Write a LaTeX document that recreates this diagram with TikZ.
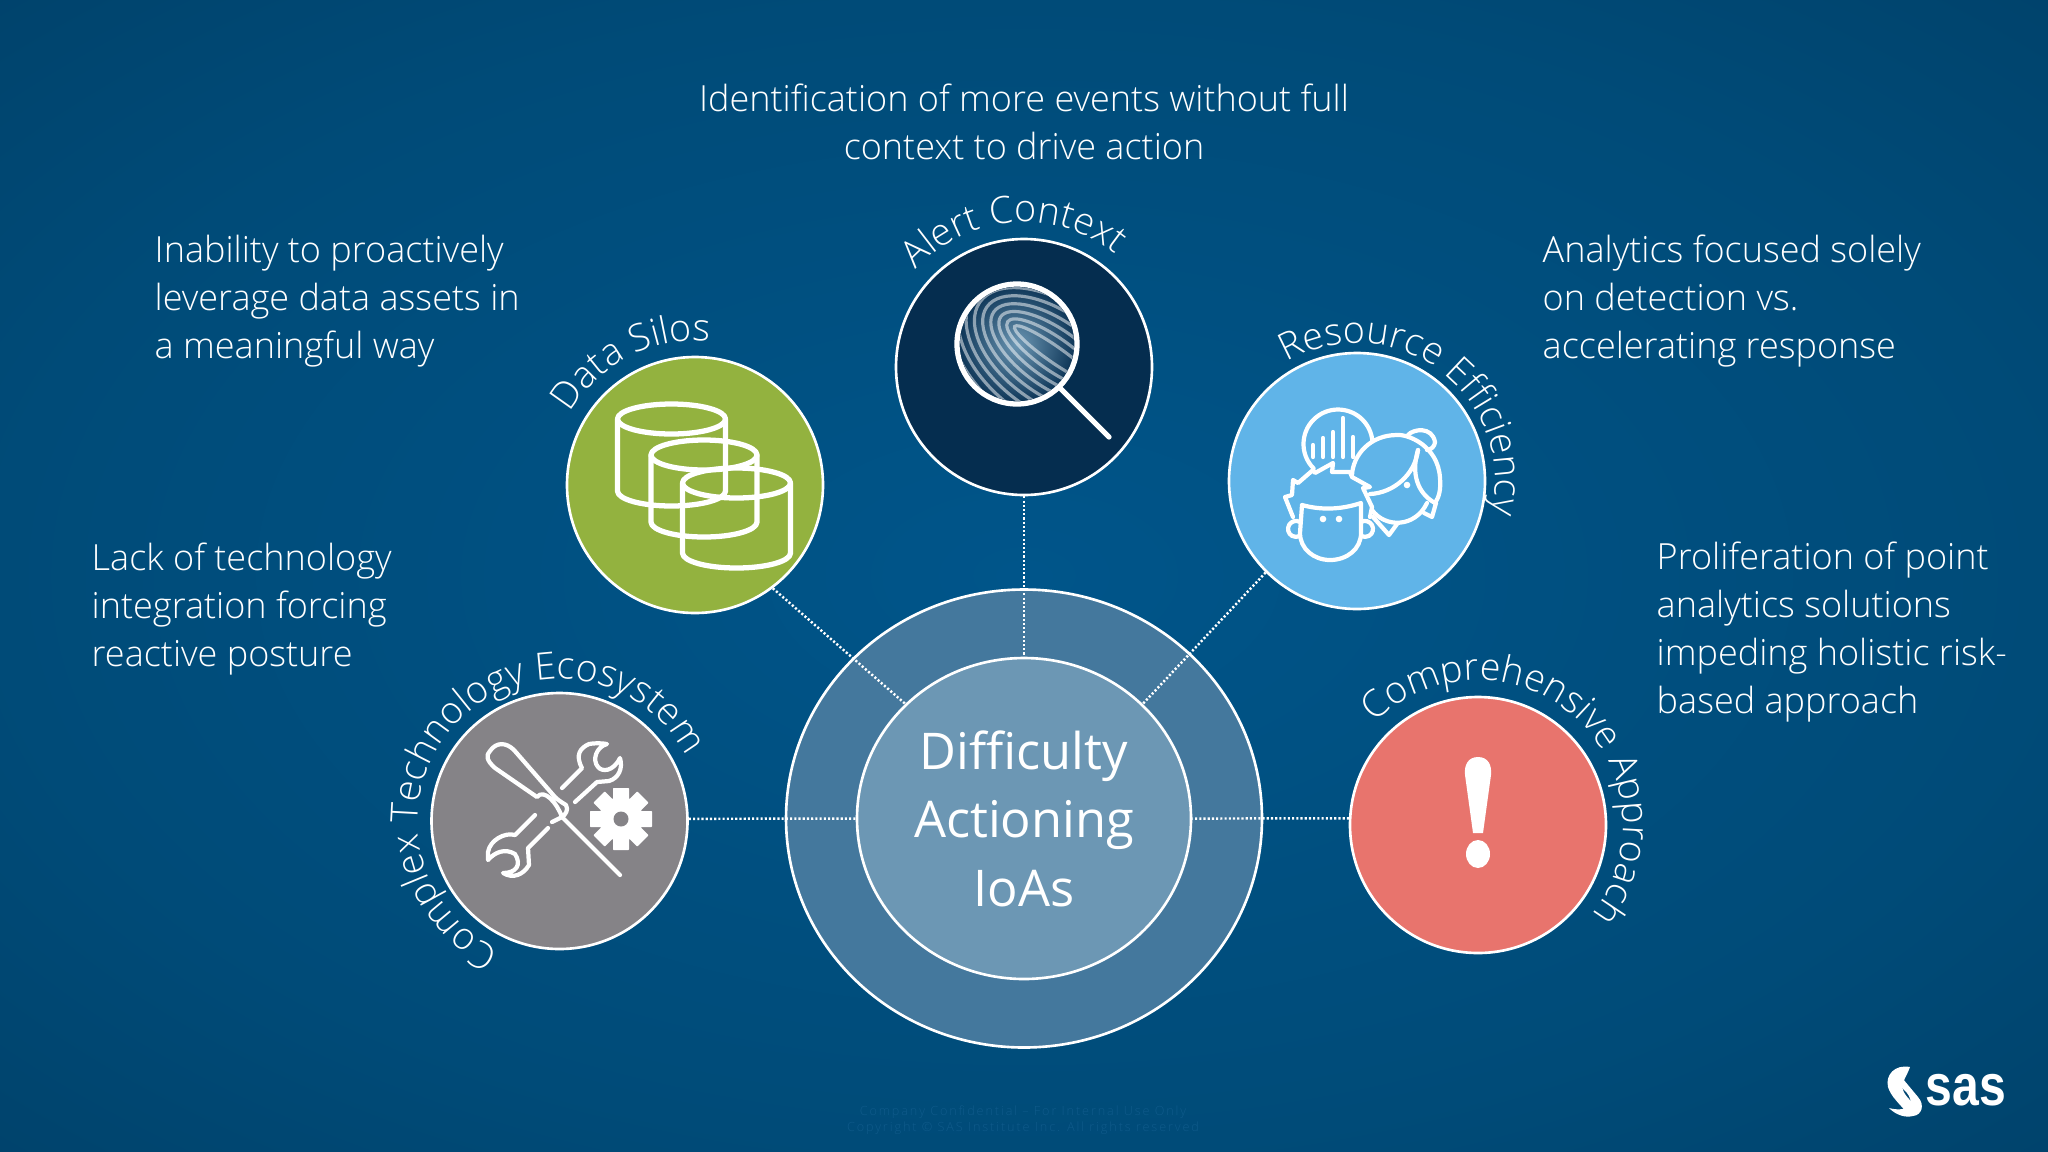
\documentclass[tikz,border=0pt]{standalone}
\usepackage{xcolor}
\usepackage{fontspec}
\usetikzlibrary{decorations.text}
\usetikzlibrary{shapes.geometric}
\setmainfont{Open Sans Light}
\newfontfamily\midfont{Open Sans}
\newfontfamily\logofont{Liberation Sans}
\newcommand{\bodyfont}{\fontsize{10.25}{13.65}\selectfont}
\newcommand{\arcfont}{\fontsize{10.7}{13}\selectfont\color{white}}
\definecolor{bgmid}{HTML}{00558A}
\definecolor{bgnear}{HTML}{004B78}
\definecolor{bgedge}{HTML}{01385C}
\definecolor{bgcorner}{HTML}{022B48}
\definecolor{ringblue}{HTML}{44789D}
\definecolor{hubblue}{HTML}{6C97B4}
\definecolor{silogreen}{HTML}{93B23F}
\definecolor{alertnavy}{HTML}{052D4F}
\definecolor{skyblue}{HTML}{60B4E8}
\definecolor{toolgrey}{HTML}{858387}
\definecolor{warnred}{HTML}{E8746D}
\definecolor{footblue}{HTML}{0F5A8A}
\pgfdeclareradialshading{slideback}{\pgfpoint{0bp}{0bp}}{color(0bp)=(bgmid); color(25bp)=(bgnear); color(50bp)=(bgedge); color(71bp)=(bgcorner)}
\tikzset{
  disc/.style={circle, draw=white, line width=0.75pt, inner sep=0pt, minimum size=25.6mm},
  bodytext/.style={text=white, align=left, anchor=west, inner sep=0pt, font=\bodyfont},
  arclabel/.style={decorate, decoration={text along path, text align=center, text={|\arcfont|#1}}},
  dotlink/.style={white, line width=0.7pt, dash pattern=on 0.6pt off 0.6pt},
  iconline/.style={white, line width=1.5pt, line cap=round, line join=round},
  thinicon/.style={white, line width=1.2pt, line cap=round, line join=round},
  ridge/.style={white, opacity=0.5, line width=0.9pt}
}
\begin{document}
\begin{tikzpicture}[scale=0.1]
\useasboundingbox (0,0) rectangle (204.8,-115.1);
\shade [shading=slideback] (0,0) rectangle (204.8,-115.1);
\node [ellipse, draw=white, line width=0.75pt, fill=ringblue, inner sep=0pt, minimum width=47.6mm, minimum height=45.8mm] (hubring) at (102.4,-81.85) {};
\node [ellipse, draw=white, line width=0.75pt, fill=hubblue, inner sep=0pt, minimum width=33.4mm, minimum height=32.1mm, text=white, align=center, font=\midfont\fontsize{14.4}{19.5}\selectfont] (hub) at (102.4,-81.85) {Difficulty\\Actioning\\IoAs};
\node [disc, fill=silogreen] (silos) at (69.5,-48.5) {};
\node [disc, fill=alertnavy] (alert) at (102.4,-36.7) {};
\node [disc, fill=skyblue] (people) at (135.7,-48.1) {};
\node [disc, fill=toolgrey] (tools) at (55.95,-82.1) {};
\node [disc, fill=warnred] (warn) at (147.8,-82.5) {};
\draw [dotlink] (silos.-53) -- (hub.136);
\draw [dotlink] (alert.south) -- (hub.north);
\draw [dotlink] (people.225) -- (hub.44);
\draw [dotlink] (tools.1) -- (hub.west);
\draw [dotlink] (warn.177) -- (hub.east);
\node [bodytext, anchor=center, align=center] (alerttext) at (102.4,-12.2) {Identification of more events without full\\context to drive action};
\node [bodytext] (silostext) at (15.4,-30.1) {Inability to proactively\\leverage data assets in\\a meaningful way};
\node [bodytext] (toolstext) at (9.1,-60.9) {Lack of technology\\integration forcing\\reactive posture};
\node [bodytext] (peopletext) at (154.2,-30.1) {Analytics focused solely\\on detection vs.\\accelerating response};
\node [bodytext] (warntext) at (165.6,-63.2) {Proliferation of point\\analytics solutions\\impeding holistic risk-\\based approach};
\path [arclabel={Data Silos}] (silos.center) ++(158:14.4) arc (158:76:14.4);
\path [arclabel={Alert Context}] (alert.center) ++(150:14.5) arc (150:39:14.5);
\path [arclabel={Resource Efficiency}] (people.center) ++(133:13.8) arc (133:-26:13.8);
\path [arclabel={Complex Technology Ecosystem}] (tools.center) ++(256:14.2) arc (256:16:14.2);
\path [arclabel={Comprehensive Approach}] (warn.center) ++(150:14.5) arc (150:-53:14.5);
\draw [iconline] (67.15,-41.9) ellipse (5.4 and 1.5);
\draw [iconline] (61.75,-41.9) -- (61.75,-49.1) arc (180:360:5.4 and 1.5) -- (72.55,-41.9);
\draw [iconline] (70.4,-45.5) ellipse (5.3 and 1.5);
\draw [iconline] (65.1,-45.5) -- (65.1,-52.2) arc (180:360:5.3 and 1.5) -- (75.7,-45.5);
\draw [iconline] (73.65,-48.3) ellipse (5.4 and 1.5);
\draw [iconline] (68.25,-48.3) -- (68.25,-55.3) arc (180:360:5.4 and 1.5) -- (79.05,-48.3);
\begin{scope}
\clip (101.7,-34.4) circle (5.7);
\shade [inner color=hubblue, outer color=alertnavy!90!hubblue] (101.7,-34.4) circle (5.7);
\draw [ridge] (105.4,-35.4) circle [x radius=4.8, y radius=0.8, rotate=-35];
\draw [ridge] (105.4,-35.4) circle [x radius=5.65, y radius=1.65, rotate=-35];
\draw [ridge] (105.4,-35.4) circle [x radius=6.5, y radius=2.5, rotate=-35];
\draw [ridge] (105.4,-35.4) circle [x radius=7.35, y radius=3.35, rotate=-35];
\draw [ridge] (105.4,-35.4) circle [x radius=8.2, y radius=4.2, rotate=-35];
\draw [ridge] (105.4,-35.4) circle [x radius=9.05, y radius=5.05, rotate=-35];
\draw [ridge] (105.4,-35.4) circle [x radius=9.9, y radius=5.9, rotate=-35];
\draw [ridge] (105.4,-35.4) circle [x radius=10.75, y radius=6.75, rotate=-35];
\draw [ridge] (105.4,-35.4) circle [x radius=11.6, y radius=7.6, rotate=-35];
\draw [ridge] (105.4,-35.4) circle [x radius=12.45, y radius=8.45, rotate=-35];
\draw [ridge] (105.4,-35.4) circle [x radius=13.3, y radius=9.3, rotate=-35];
\end{scope}
\draw [iconline] (101.7,-34.4) circle (6);
\draw [iconline] (106,-38.8) -- (110.9,-43.7);
\draw [thinicon] (131.36,-46.84) arc (225:5:3.45);
\draw [thinicon] (131.3,-45.7) -- (131.3,-44.5);
\draw [thinicon] (132.3,-45.7) -- (132.3,-43.8);
\draw [thinicon] (133.3,-45.7) -- (133.3,-43.2);
\draw [thinicon] (134.3,-45.7) -- (134.3,-41.8);
\draw [thinicon] (135.3,-45.7) -- (135.3,-43.7);
\draw [thinicon] (130.2,-50.5) -- (130,-53.3) .. controls (130,-54.9) and (131.4,-56) .. (133,-56) .. controls (134.7,-56) and (136.1,-54.9) .. (136.1,-53.3) -- (136.1,-50.3) .. controls (134,-51) and (132,-51) .. (130.2,-50.5);
\fill [white] (132.3,-51.9) circle (0.33);
\fill [white] (133.9,-51.9) circle (0.33);
\draw [thinicon] (130,-52.2) arc (60:300:0.8);
\draw [thinicon] (136.1,-52.2) arc (120:-120:0.8);
\draw [thinicon] (129.3,-51.7) -- (128.5,-49.7) -- (129.2,-49.5) -- (129.3,-48) -- (129.8,-48.3) -- (131.3,-47) -- (131.5,-47.3) -- (133.3,-46.3) -- (133.2,-47.2) -- (135,-47.2) -- (135.2,-47.7) -- (137,-48.7) -- (136.3,-48.8) -- (137.2,-50.7) -- (137,-51.7);
\draw [thinicon] (135.2,-47.5) .. controls (135.3,-45.5) and (137,-43.5) .. (139.7,-43.5) .. controls (140.7,-43.4) and (143.8,-44.5) .. (144,-47.8) .. controls (144.1,-49) and (143.9,-49.7) .. (143.5,-50.3);
\draw [thinicon] (140.8,-43.5) .. controls (141.3,-42.9) and (143.2,-42.6) .. (143.5,-44.2) .. controls (143.5,-44.6) and (143.1,-45) .. (142.7,-45);
\draw [thinicon] (137,-49.4) .. controls (139.3,-49.3) and (141.5,-47.5) .. (141.8,-45);
\draw [thinicon] (141.8,-45) .. controls (141.1,-47.3) and (141.7,-49.3) .. (143.5,-50.3);
\draw [thinicon] (137.2,-51) .. controls (138.5,-52.8) and (141.5,-52.8) .. (142.7,-50.3);
\draw [thinicon] (137.3,-51.7) -- (138.9,-53.5) -- (139.7,-52.4);
\draw [thinicon] (142.4,-51.3) -- (143.2,-51.7) -- (143.6,-50.3);
\fill [white] (140.7,-48.5) circle (0.33);
\draw [thinicon] (56.2,-81.7) .. controls (55.7,-80.3) and (54.4,-78.8) .. (53.7,-79.7) -- (49.5,-76.8) .. controls (48.6,-76) and (48.6,-75.5) .. (49,-75.1) .. controls (49.6,-74.2) and (50.6,-74.2) .. (51.4,-75) -- (55.5,-79.7) .. controls (55.9,-80.1) and (56.3,-80.3) .. (56.6,-80.5) .. controls (56.9,-81) and (56.5,-81.5) .. (56.2,-81.7) -- (55.2,-82.2) -- cycle;
\draw [thinicon] (56.2,-81.7) -- (62,-87.5);
\draw [thinicon] (56.2,-78.8) -- (58.2,-76.8) .. controls (57.5,-75.5) and (58,-74.8) .. (58.9,-74.4) .. controls (59.4,-74.3) and (60.2,-74.3) .. (60.7,-74.4) .. controls (59.6,-74.7) and (59.2,-76) .. (59.8,-76.7) .. controls (60.2,-77.2) and (61.3,-77.2) .. (62,-75.8) .. controls (62.3,-76.8) and (61.9,-77.8) .. (60.9,-78.1) -- (59.7,-78.2) -- (57.5,-80.2);
\draw [thinicon] (53.5,-81.5) -- (51.5,-83.5) .. controls (50.5,-83.2) and (49,-84) .. (48.8,-85.2) -- (48.8,-86) .. controls (49.5,-85.2) and (50.5,-84.8) .. (51.5,-85.4) .. controls (52.2,-86.5) and (51.6,-87.3) .. (50.3,-87.3) .. controls (51.3,-87.9) and (52.3,-87.5) .. (52.9,-86.5) -- (52.8,-84.8) -- (54.8,-82.8);
\fill [white] (62.1,-81.9) circle (2.2);
\fill [white, rotate around={0:(62.1,-81.9)}, rounded corners=0.2] (61.3,-85) rectangle (62.9,-78.8);
\fill [white, rotate around={45:(62.1,-81.9)}, rounded corners=0.2] (61.3,-85) rectangle (62.9,-78.8);
\fill [white, rotate around={90:(62.1,-81.9)}, rounded corners=0.2] (61.3,-85) rectangle (62.9,-78.8);
\fill [white, rotate around={135:(62.1,-81.9)}, rounded corners=0.2] (61.3,-85) rectangle (62.9,-78.8);
\fill [toolgrey] (62.1,-81.9) circle (0.75);
\fill [white] (147.8,-75.7) .. controls (146.8,-75.7) and (146.4,-76.5) .. (146.5,-77.5) -- (147.3,-83.3) -- (148.3,-83.3) -- (149.1,-77.5) .. controls (149.2,-76.5) and (148.8,-75.7) .. (147.8,-75.7) -- cycle;
\fill [white] (147.8,-85.4) ellipse (1.2 and 1.4);
\node [text=white, inner sep=0pt, anchor=base west, xscale=0.83, font=\logofont\bfseries\fontsize{16.5}{18}\selectfont] (saslogo) at (192.5,-110.5) {sas};
\fill [white] (191,-106.7) .. controls (189.5,-106.4) and (188.5,-107.5) .. (188.8,-108.7) .. controls (189.1,-109.7) and (190,-110.4) .. (190.7,-111.3) -- (191.4,-110.5) .. controls (190.9,-109.8) and (190,-109.2) .. (190.3,-108.3) .. controls (190.5,-107.7) and (190.8,-107.3) .. (191,-106.7) -- cycle;
\fill [white] (190.3,-107.9) -- (191.8,-109.7) .. controls (192.5,-110.5) and (192.2,-111.5) .. (191.3,-111.6) .. controls (190.5,-111.8) and (189.6,-111.5) .. (188.9,-110.8) .. controls (189.6,-111) and (190.5,-111) .. (190.9,-110.6) .. controls (191.2,-110.2) and (191,-109.7) .. (190.7,-109.3) -- (189.8,-108.4) -- cycle;
\node [text=footblue, inner sep=0pt, align=center, font=\fontsize{3.6}{4.6}\selectfont\addfontfeature{LetterSpace=15}] (footer) at (102.3,-112) {Company Confidential -- For Internal Use Only\\Copyright © SAS Institute Inc. All rights reserved};
\end{tikzpicture}
\end{document}
